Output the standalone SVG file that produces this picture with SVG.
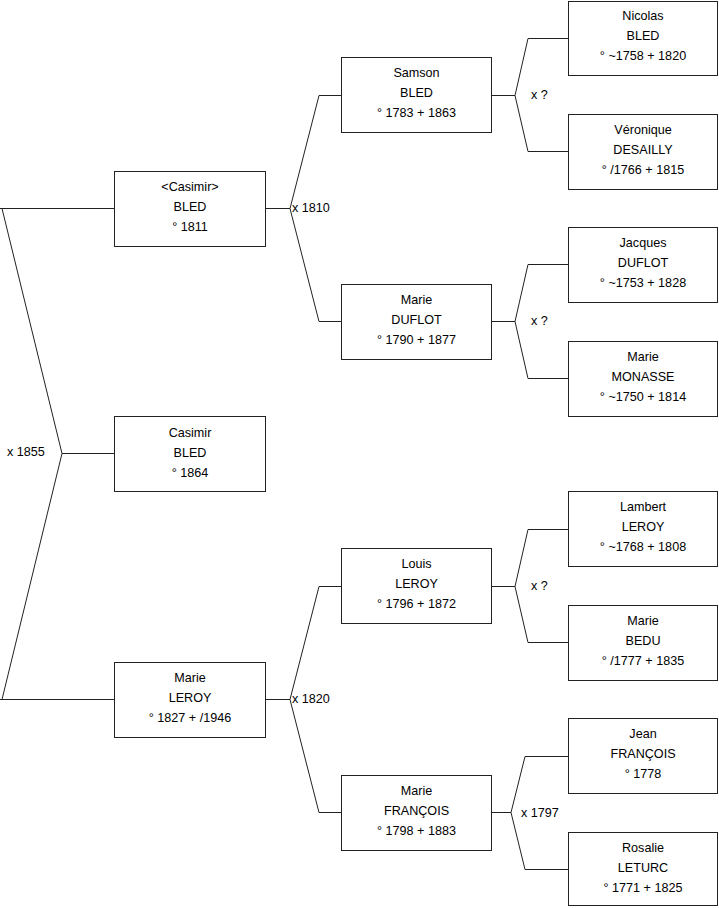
<svg xmlns="http://www.w3.org/2000/svg" width="719" height="908" viewBox="0 0 719 908">
<style>
.box{fill:#fff;stroke:#222;stroke-width:1}
.ln{fill:none;stroke:#222;stroke-width:1}
text{font-family:"Liberation Sans",Arial,sans-serif;font-size:12.6px;fill:#000}
.c{text-anchor:middle}
</style>
<rect width="719" height="908" fill="#fff"/>
<g id="connectors">
<path class="ln" d="M0,208.5H114.5M2,208.5L62,453.5L2,699.5M62,453.5H114.5M0,699.5H114.5"/>
<path class="ln" d="M265.5,208.5H290M319,95.5L290,208.5L319,321.5M319,95.5H341.5M319,321.5H341.5"/>
<path class="ln" d="M265.5,699.5H290M319,586.5L290,699.5L319,812.5M319,586.5H341.5M319,812.5H341.5"/>
<path class="ln" d="M491.5,95.5H515M528,38.5L515,95.5L528,151.5M528,38.5H568.5M528,151.5H568.5"/>
<path class="ln" d="M491.5,321.5H515M528,264.5L515,321.5L528,378.5M528,264.5H568.5M528,378.5H568.5"/>
<path class="ln" d="M491.5,586.5H515M528,529.5L515,586.5L528,642.5M528,529.5H568.5M528,642.5H568.5"/>
<path class="ln" d="M491.5,812.5H511M525,756.5L511,812.5L525,869.5M525,756.5H568.5M525,869.5H568.5"/>
<text x="7" y="456">x 1855</text>
<text x="292" y="212">x 1810</text>
<text x="292" y="703">x 1820</text>
<text x="531" y="99">x ?</text>
<text x="531" y="325">x ?</text>
<text x="531" y="590">x ?</text>
<text x="521" y="817">x 1797</text>
</g>
<g id="casimir-bled-father">
<rect class="box" x="114.5" y="171.5" width="151" height="75"/>
<text class="c" x="190" y="191">&lt;Casimir&gt;</text>
<text class="c" x="190" y="211">BLED</text>
<text class="c" x="190" y="231">° 1811</text>
</g>
<g id="casimir-bled">
<rect class="box" x="114.5" y="416.5" width="151" height="75"/>
<text class="c" x="190" y="437">Casimir</text>
<text class="c" x="190" y="457">BLED</text>
<text class="c" x="190" y="477">° 1864</text>
</g>
<g id="marie-leroy">
<rect class="box" x="114.5" y="662.5" width="151" height="75"/>
<text class="c" x="190" y="682">Marie</text>
<text class="c" x="190" y="702">LEROY</text>
<text class="c" x="190" y="722">° 1827 + /1946</text>
</g>
<g id="samson-bled">
<rect class="box" x="341.5" y="57.5" width="150" height="75"/>
<text class="c" x="416.5" y="77">Samson</text>
<text class="c" x="416.5" y="97">BLED</text>
<text class="c" x="416.5" y="117">° 1783 + 1863</text>
</g>
<g id="marie-duflot">
<rect class="box" x="341.5" y="284.5" width="150" height="75"/>
<text class="c" x="416.5" y="304">Marie</text>
<text class="c" x="416.5" y="324">DUFLOT</text>
<text class="c" x="416.5" y="344">° 1790 + 1877</text>
</g>
<g id="louis-leroy">
<rect class="box" x="341.5" y="548.5" width="150" height="75"/>
<text class="c" x="416.5" y="568">Louis</text>
<text class="c" x="416.5" y="588">LEROY</text>
<text class="c" x="416.5" y="608">° 1796 + 1872</text>
</g>
<g id="marie-francois">
<rect class="box" x="341.5" y="775.5" width="150" height="75"/>
<text class="c" x="416.5" y="795">Marie</text>
<text class="c" x="416.5" y="815">FRANÇOIS</text>
<text class="c" x="416.5" y="835">° 1798 + 1883</text>
</g>
<g id="nicolas-bled">
<rect class="box" x="568.5" y="1.5" width="149" height="74"/>
<text class="c" x="643" y="20">Nicolas</text>
<text class="c" x="643" y="40">BLED</text>
<text class="c" x="643" y="60">° ~1758 + 1820</text>
</g>
<g id="veronique-desailly">
<rect class="box" x="568.5" y="114.5" width="149" height="75"/>
<text class="c" x="643" y="134">Véronique</text>
<text class="c" x="643" y="154">DESAILLY</text>
<text class="c" x="643" y="174">° /1766 + 1815</text>
</g>
<g id="jacques-duflot">
<rect class="box" x="568.5" y="227.5" width="149" height="75"/>
<text class="c" x="643" y="247">Jacques</text>
<text class="c" x="643" y="267">DUFLOT</text>
<text class="c" x="643" y="287">° ~1753 + 1828</text>
</g>
<g id="marie-monasse">
<rect class="box" x="568.5" y="341.5" width="149" height="75"/>
<text class="c" x="643" y="361">Marie</text>
<text class="c" x="643" y="381">MONASSE</text>
<text class="c" x="643" y="401">° ~1750 + 1814</text>
</g>
<g id="lambert-leroy">
<rect class="box" x="568.5" y="491.5" width="149" height="75"/>
<text class="c" x="643" y="511">Lambert</text>
<text class="c" x="643" y="531">LEROY</text>
<text class="c" x="643" y="551">° ~1768 + 1808</text>
</g>
<g id="marie-bedu">
<rect class="box" x="568.5" y="605.5" width="149" height="75"/>
<text class="c" x="643" y="625">Marie</text>
<text class="c" x="643" y="645">BEDU</text>
<text class="c" x="643" y="665">° /1777 + 1835</text>
</g>
<g id="jean-francois">
<rect class="box" x="568.5" y="718.5" width="149" height="75"/>
<text class="c" x="643" y="738">Jean</text>
<text class="c" x="643" y="758">FRANÇOIS</text>
<text class="c" x="643" y="778">° 1778</text>
</g>
<g id="rosalie-leturc">
<rect class="box" x="568.5" y="832.5" width="149" height="73"/>
<text class="c" x="643" y="852">Rosalie</text>
<text class="c" x="643" y="872">LETURC</text>
<text class="c" x="643" y="892">° 1771 + 1825</text>
</g>
</svg>
